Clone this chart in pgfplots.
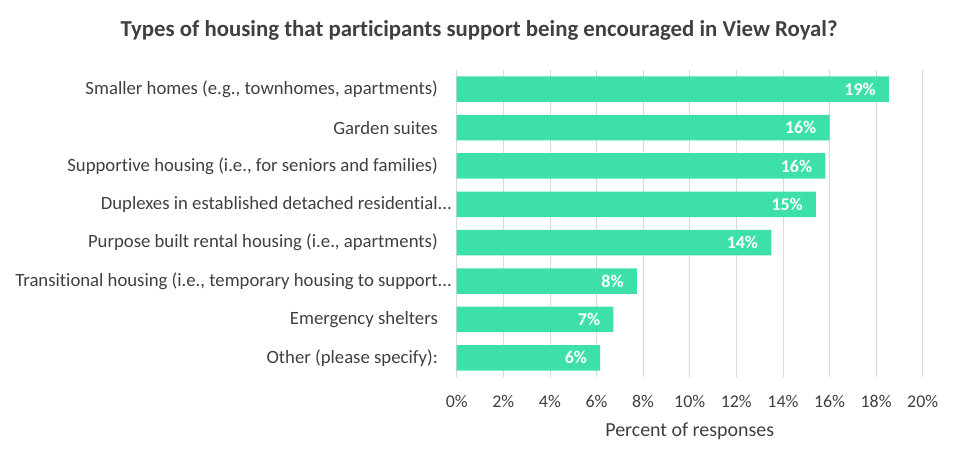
\documentclass[border=0pt]{standalone}
\usepackage{pgfplots}
\pgfplotsset{compat=1.18}
\usepackage{fontspec}
\setmainfont{Carlito}[Ligatures=NoCommon]
\definecolor{bargreen}{RGB}{62,224,170}
\definecolor{txt}{RGB}{64,64,64}
\definecolor{gridc}{RGB}{217,217,217}
\begin{document}
\begin{tikzpicture}[x=1bp,y=1bp]
\useasboundingbox (0,0) rectangle (965,-471);
\node[font=\fontsize{22.9}{26}\selectfont\bfseries, text=txt] at (479,-30) {Types of housing that participants support being encouraged in View Royal?};
\begin{axis}[
  at={(456.7bp,-377bp)}, anchor=south west,
  scale only axis, width=466bp, height=307bp,
  xbar, bar width=25.6bp,
  xmin=0, xmax=20,
  ymin=-0.5, ymax=7.5, y dir=reverse,
  xtick={0,2,...,20},
  xticklabels={0\%,2\%,4\%,6\%,8\%,10\%,12\%,14\%,16\%,18\%,20\%},
  ytick={0,1,...,7},
  yticklabels={{Smaller homes (e.g., townhomes, apartments)},{Garden suites},{Supportive housing (i.e., for seniors and families)},{Duplexes in established detached residential\rlap{...}},{Purpose built rental housing (i.e., apartments)},{Transitional housing (i.e., temporary housing to support\rlap{...}},{Emergency shelters},{Other (please specify):}},
  major tick length=0,
  axis line style={draw=none},
  xmajorgrids, grid style={gridc, line width=0.8bp},
  /pgf/number format/assume math mode=true,
  yticklabel style={font=\fontsize{18.8}{21}\selectfont, text=txt, anchor=east, inner sep=0pt, xshift=-18.7bp},
  xticklabel style={font=\fontsize{18}{21}\selectfont, text=txt, anchor=center, inner sep=0pt, yshift=-24.7bp},
  xlabel={Percent of responses},
  every axis x label/.style={at={(axis description cs:0.5,0)}, yshift=-54.7bp, font=\fontsize{20}{22}\selectfont, text=txt, anchor=center, inner sep=0pt},
  point meta=explicit,
  nodes near coords={\pgfmathprintnumber[precision=0]{\pgfplotspointmeta}\%},
  nodes near coords style={anchor=east, font=\fontsize{18}{20}\selectfont\bfseries, text=white, inner sep=0pt, xshift=-13bp},
]
\addplot[fill=bargreen, draw=none] coordinates {
  (18.55,0) [19]
  (16.0,1) [16]
  (15.82,2) [16]
  (15.42,3) [15]
  (13.5,4) [14]
  (7.73,5) [8]
  (6.72,6) [7]
  (6.16,7) [6]
};
\end{axis}
\end{tikzpicture}
\end{document}
